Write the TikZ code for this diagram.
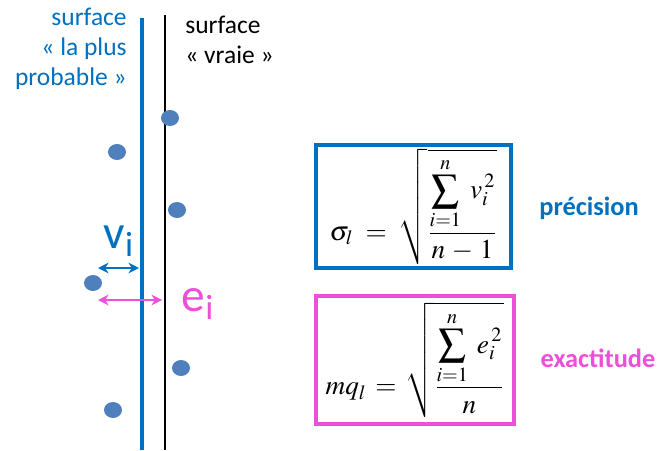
\documentclass[tikz,border=0pt]{standalone}
\usepackage{mathptmx}
\usepackage{fontspec}
\setmainfont{Carlito}
\usepackage{tikz}
\usetikzlibrary{arrows.meta, positioning, shapes.geometric}
\definecolor{surfblue}{HTML}{0070C0}
\definecolor{truemagenta}{HTML}{EE4FDA}
\definecolor{pointblue}{HTML}{4F7FBC}

\begin{document}
\begin{tikzpicture}[
  x=0.02cm, y=-0.02cm,
  every node/.style={font=\fontsize{14.5}{17}\selectfont},
  surflabel/.style={align=right, text=surfblue, inner sep=0pt},
  truelabel/.style={align=left, text=black, inner sep=0pt},
  measpoint/.style={ellipse, fill=pointblue, minimum width=0.36cm, minimum height=0.32cm, inner sep=0pt},
  precbox/.style={rectangle, draw=surfblue, line width=2pt,
    minimum width=3.9cm, minimum height=2.46cm, inner sep=0pt},
  exactbox/.style={rectangle, draw=truemagenta, line width=2pt,
    minimum width=3.96cm, minimum height=2.56cm, inner sep=0pt},
  gaparrow/.style={{Stealth[length=6pt,width=6pt]}-{Stealth[length=6pt,width=6pt]}, line width=1pt},
  bigsym/.style={font=\fontsize{27}{30}\selectfont, inner sep=0pt},
  qualword/.style={font=\fontsize{15}{17}\selectfont\bfseries},
]
\useasboundingbox (0,0) rectangle (661,450);

% the two surfaces
\draw[surfblue, line width=2.8pt] (142,18) -- (142,450);
\draw[black, line width=1.1pt] (165,15) -- (165,450);

% labels of the surfaces
\node[surflabel, anchor=north east] (probable) at (127,8)
  {surface\\« la plus\\probable »};
\node[truelabel, anchor=north west] (vraie) at (185,16)
  {surface\\« vraie »};

% measured points
\node[measpoint] (p1) at (170,118) {};
\node[measpoint] (p2) at (117,152) {};
\node[measpoint] (p3) at (177,210) {};
\node[measpoint] (p4) at (93,283) {};
\node[measpoint] (p5) at (181,368) {};
\node[measpoint] (p6) at (113,410) {};

% residual v_i
\coordinate (vl) at (98,268);
\coordinate (vr) at (139,268);
\draw[gaparrow, surfblue] (vl) -- (vr);
\node[bigsym, text=surfblue] (vlab) at (119,241) {v\textsubscript{i}};

% true error e_i
\coordinate (el) at (98,300);
\coordinate (er) at (162,300);
\draw[gaparrow, truemagenta] (el) -- (er);
\node[bigsym, text=truemagenta] (elab) at (198,304) {e\textsubscript{i}};

% formulas
\node[precbox] (sigma) at (413.5,206.5)
  {\fontsize{15.5}{18}\selectfont$\displaystyle \sigma_{l} \;=\; \sqrt{\frac{\displaystyle\sum_{i=1}^{n}\; v_i^{\,2}}{n\,-\,1}}$};
\node[exactbox] (mq) at (415,360)
  {\fontsize{15.5}{18}\selectfont$\displaystyle mq_{l} \,=\, \sqrt{\frac{\displaystyle\sum_{i=1}^{n}\; e_i^{\,2}}{n}}$};

\node[qualword, text=surfblue] (prec) at (589,208) {précision};
\node[qualword, text=truemagenta] (exact) at (598,358) {exactitude};

\end{tikzpicture}
\end{document}
